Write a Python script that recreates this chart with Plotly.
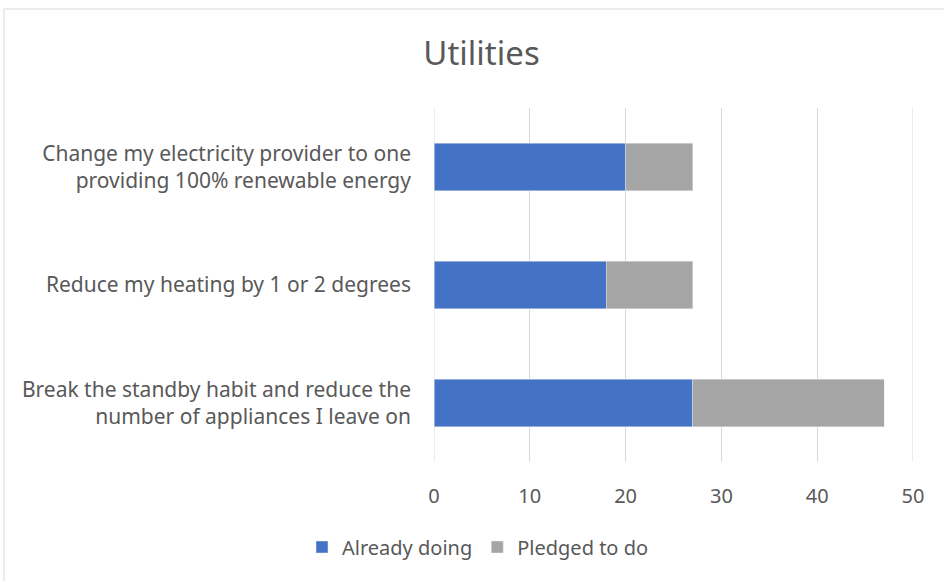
import plotly.graph_objects as go

categories = [
    "Break the standby habit and reduce the<br>number of appliances I leave on",
    "Reduce my heating by 1 or 2 degrees",
    "Change my electricity provider to one<br>providing 100% renewable energy",
]
already_doing = [27, 18, 20]
pledged = [20, 9, 7]
x_ticks = [0, 10, 20, 30, 40, 50]

W, H = 944, 581
L, R, T, B = 434, 31, 108, 119
pw, ph = W - L - R, H - T - B

FONT = "Noto Sans, Open Sans, sans-serif"
TXT = "#595959"
GRID = "#D9D9D9"

fig = go.Figure()
fig.add_trace(go.Bar(y=categories, x=already_doing, name="Already doing",
                     orientation="h", marker_color="#4472C4"))
fig.add_trace(go.Bar(y=categories, x=pledged, name="Pledged to do",
                     orientation="h", marker_color="#A5A5A5"))

shapes = [dict(type="rect", xref="paper", yref="paper",
               x0=(4 - L) / pw, x1=(W + 10 - L) / pw,
               y0=-(H + 10 - T - ph) / ph, y1=1 + (T - 9) / ph,
               line=dict(color=GRID, width=1), layer="below")]
for v in (x_ticks[0], x_ticks[-1]):
    shapes.append(dict(type="line", xref="x", yref="paper", x0=v, x1=v, y0=0, y1=1,
                       line=dict(color=GRID, width=1), layer="below"))

fig.update_layout(
    width=W, height=H,
    barmode="stack", bargap=0.6,
    paper_bgcolor="white", plot_bgcolor="white",
    margin=dict(l=L, r=R, t=T, b=B, autoexpand=False),
    font=dict(family=FONT, color=TXT, size=20),
    title=dict(text="Utilities", x=481.5 / W, xanchor="center", y=1 - 53 / H, yanchor="middle",
               font=dict(family=FONT, size=33, color=TXT)),
    xaxis=dict(range=[0, 50], tickvals=x_ticks, showgrid=True, gridcolor=GRID,
               gridwidth=1, zeroline=False, showline=False, ticks="",
               ticklabelstandoff=20, tickfont=dict(size=20, color=TXT)),
    yaxis=dict(showgrid=False, zeroline=False, showline=False, ticks="",
               ticklabelstandoff=22, tickfont=dict(size=21, color=TXT)),
    legend=dict(orientation="h", x=(478 - L) / pw, xanchor="center",
                y=-(547 - (T + ph)) / ph, yanchor="middle",
                font=dict(size=20, color=TXT), itemwidth=30, traceorder="normal"),
    shapes=shapes,
)

fig.write_html(
    "out.html",
    config={"displayModeBar": False},
    post_script="document.body.style.margin='0';document.body.style.overflow='hidden';",
)
